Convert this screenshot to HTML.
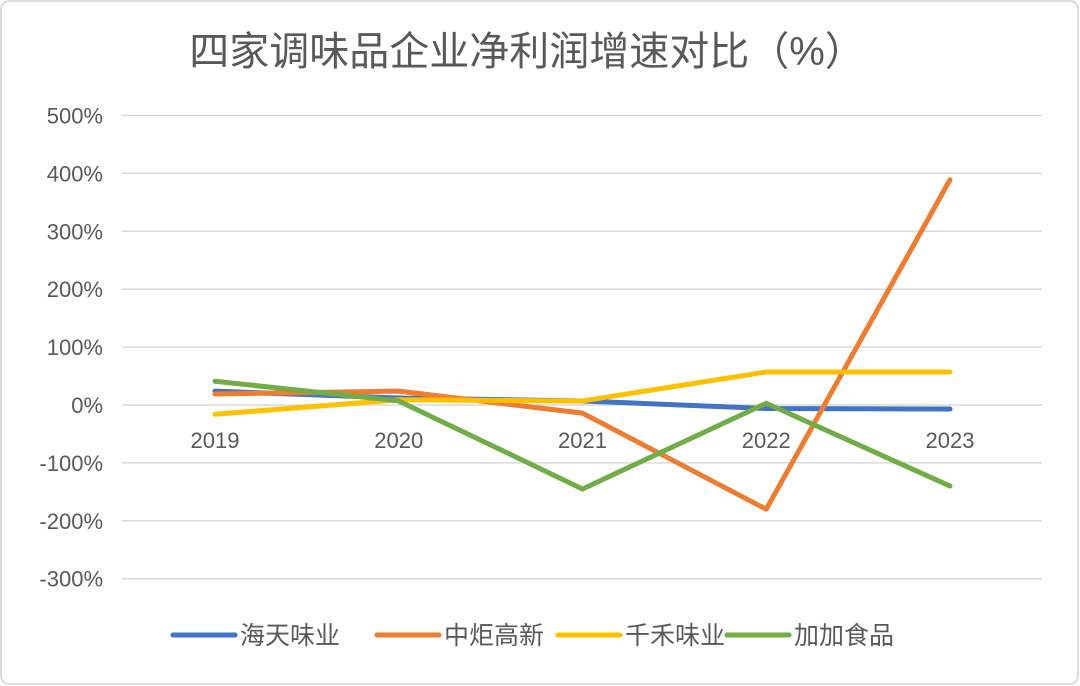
<!DOCTYPE html>
<html><head><meta charset="utf-8">
<style>
html,body{margin:0;padding:0;background:#fff;}
svg{display:block;font-family:"Liberation Sans","Noto Sans CJK SC",sans-serif;}
</style></head>
<body>
<svg id="chart" width="1080" height="686" viewBox="0 0 1080 686" xmlns="http://www.w3.org/2000/svg">
<rect x="1" y="1" width="1077" height="683" rx="8" fill="#fff" stroke="#d0d0d0" stroke-width="1.5"/>
<text x="527" y="65" text-anchor="middle" font-size="40" fill="#595959" font-family="'Liberation Sans','Noto Sans CJK SC',sans-serif">四家调味品企业净利润增速对比（%）</text>
<g id="grid"></g><g id="ylabels"></g><g id="xlabels"></g><g id="series"></g><g id="legend"></g>
</svg>
<script>
const categories=["2019","2020","2021","2022","2023"];
const yTicks=[500,400,300,200,100,0,-100,-200,-300];
const seriesNames=["海天味业","中炬高新","千禾味业","加加食品"];
const seriesColors=["#4472c4","#ed7d31","#ffc000","#70ad47"];
const haitian=[24,12,7,-6,-7];
const zhongju=[19,24,-14,-180,389];
const qianhe=[-16,9,7,57,57];
const jiajia=[41,7,-145,3,-140];
const allSeries=[haitian,zhongju,qianhe,jiajia];
const NS="http://www.w3.org/2000/svg";
function y(v){return 405-v*0.579;}
function x(i){return 215+i*183.75;}
function mk(tag,attrs,parent){const e=document.createElementNS(NS,tag);for(const k in attrs)e.setAttribute(k,attrs[k]);parent.appendChild(e);return e;}
const grid=document.getElementById('grid'),yl=document.getElementById('ylabels'),xl=document.getElementById('xlabels'),sg=document.getElementById('series'),lg=document.getElementById('legend');
yTicks.forEach(t=>{
 const l=mk('line',{x1:122,x2:1042,y1:y(t),y2:y(t),stroke:'#d9d9d9','stroke-width':1.5},grid);
 
 
 const tx=mk('text',{x:103,y:y(t)+8,'text-anchor':'end','font-size':22,fill:'#595959'},yl);
 tx.textContent=t+'%';
 
 
});
categories.forEach((c,i)=>{
 const tx=mk('text',{x:x(i),y:448,'text-anchor':'middle','font-size':22,fill:'#595959'},xl);
 tx.textContent=c;
 
 
});
allSeries.forEach((s,k)=>{
 const p=mk('polyline',{points:s.map((v,i)=>x(i)+','+y(v)).join(' '),fill:'none',stroke:seriesColors[k],'stroke-width':5,'stroke-linejoin':'round','stroke-linecap':'round'},sg);
 
 
});
const lx=[173,377,558,727];
seriesNames.forEach((n,k)=>{
 const g=mk('g',{},lg);
 
 
 mk('line',{x1:lx[k],x2:lx[k]+62,y1:635,y2:635,stroke:seriesColors[k],'stroke-width':5,'stroke-linecap':'round'},g);
 const t=mk('text',{x:lx[k]+67,y:644,'font-size':25,fill:'#595959'},g);
 t.textContent=n;
});
</script>
</body></html>
